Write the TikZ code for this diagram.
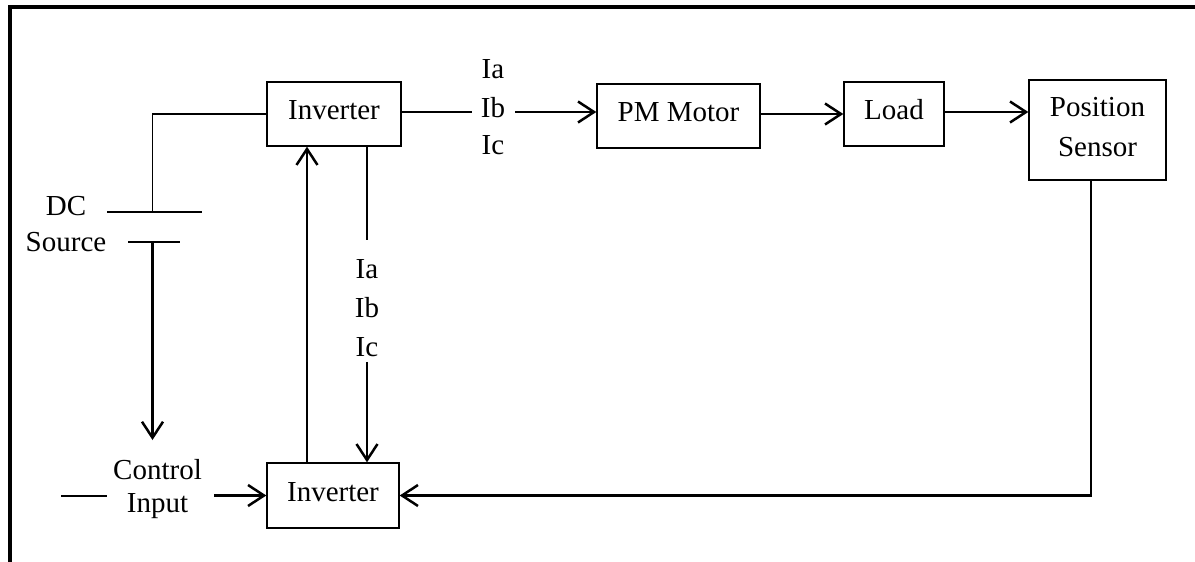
\documentclass[tikz,border=0pt]{standalone}
\usepackage{fontspec}
\setmainfont{Liberation Serif}
\usetikzlibrary{arrows.meta,calc}

\begin{document}
\begin{tikzpicture}[x=1pt,y=-1pt,
  txt/.style={font=\fontsize{29}{34}\selectfont},
  box/.style={txt,draw,line width=1.4pt,inner sep=0pt,text height=19pt,text depth=8pt},
  lbl/.style={txt,inner sep=0pt},
  wire/.style={line width=1.6pt},
  bus/.style={line width=2.2pt},
  arr/.style={line width=2.5pt,-{Straight Barb[length=16pt,width=21pt,line width=2.5pt]}},
  frame/.style={line width=4pt}]
\useasboundingbox (0,0) rectangle (1195,562);

% outer frame (top and left edges)
\draw[frame] (9.5,562) -- (9.5,7) -- (1195,7);

% blocks
\node[box,minimum width=134pt,minimum height=64pt] (inv1) at (334,114) {Inverter};
\node[box,minimum width=163pt,minimum height=64pt] (pm) at (678.5,116) {PM Motor};
\node[box,minimum width=100pt,minimum height=64pt] (load) at (894,114) {Load};
\node[txt,draw,line width=1.4pt,inner sep=0pt,align=center,minimum width=137pt,minimum height=100pt,
      font=\fontsize{29}{40}\selectfont] (pos) at (1097.5,130) {};
\node[lbl,align=center,font=\fontsize{29}{40}\selectfont] (postxt) at (1097.5,127) {Position\\Sensor};
\node[box,minimum width=132pt,minimum height=65pt] (inv2) at (333,495.5) {Inverter};

% phase current labels
\node[lbl] (ia1) at (493,69) {Ia};
\node[lbl,inner xsep=10pt] (ib1) at (493,107.5) {Ib};
\node[lbl] (ic1) at (493,145) {Ic};
\node[lbl] (ia2) at (367,269) {Ia};
\node[lbl] (ib2) at (367,307.5) {Ib};
\node[lbl] (ic2) at (367,347) {Ic};

% source and input labels
\node[lbl,align=center,font=\fontsize{29}{36}\selectfont] (dc) at (66,224.5) {DC\\Source};
\node[lbl,align=center,inner xsep=6pt,font=\fontsize{29}{33}\selectfont] (ctrl) at (157.5,489) {Control\\Input};

% forward path
\coordinate (j1) at (472,112);
\draw[bus] (inv1.east |- j1) -- (j1);
\draw[arr] (ib1.east |- j1) -- (j1 -| pm.west);
\draw[arr] (load.west -| pm.east) -- (load.west);
\draw[arr] ([yshift=2pt]load.east) -- ([yshift=2pt]load.east -| pos.west);

% current feedback from the upper inverter
\draw[bus] (inv1.south -| ia2) -- ([yshift=19pt]ia2.north);
\draw[arr] ([yshift=-5pt]ic2.south) -- (inv2.north -| ic2);

% gate signals to the upper inverter
\draw[arr] ([xshift=-26pt]inv2.north) -- ([xshift=-27pt]inv1.south);

% DC source
\coordinate (dcTop) at (152.5,212);
\coordinate (dcBot) at (152.5,242);
\coordinate (dcEnd) at (152.5,440);
\draw[wire] (inv1.west) -| (dcTop);
\draw[wire] (107,212) -- (202,212);
\draw[wire] (128,242) -- (180,242);
\draw[arr] (dcBot) -- (dcEnd);

% control input
\coordinate (cin) at (61,496);
\draw[wire] (cin) -- (cin -| ctrl.west);
\draw[arr] ([xshift=6pt]ctrl.east |- inv2.west) -- (inv2.west);

% position feedback
\coordinate (fb) at (1091,495.5);
\draw[arr,line width=2.7pt] (pos.south -| fb) |- (inv2.east);
\end{tikzpicture}
\end{document}
